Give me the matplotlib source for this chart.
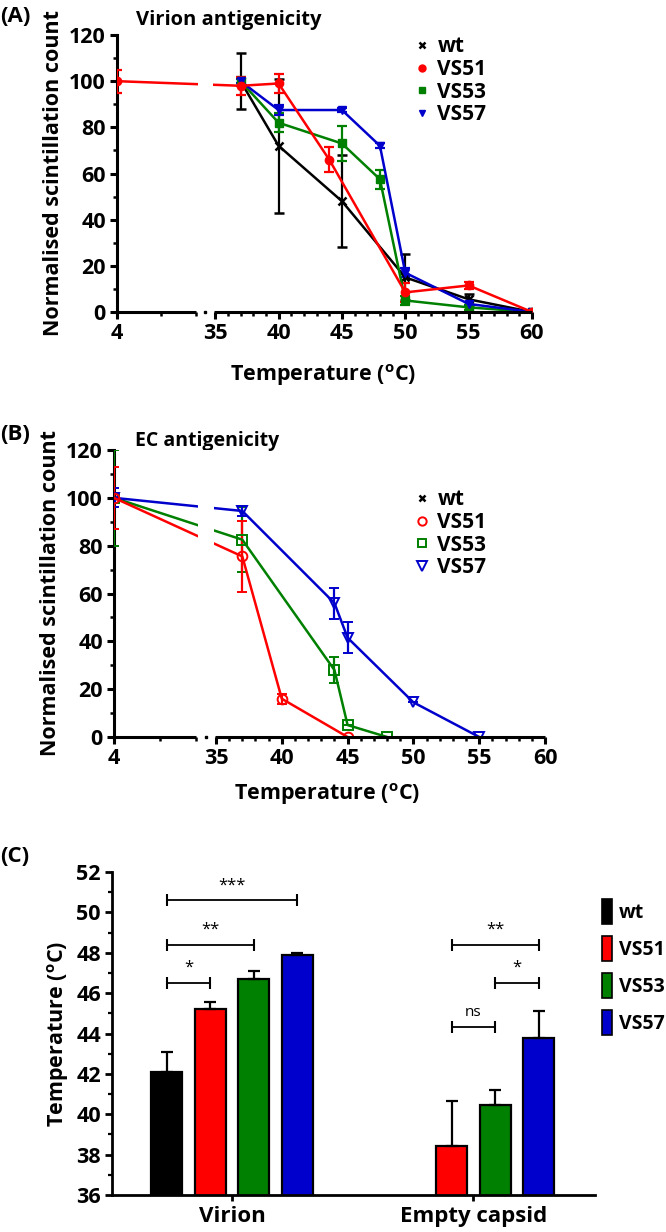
import numpy as np
import matplotlib
matplotlib.use("Agg")
import matplotlib.pyplot as plt
from matplotlib.lines import Line2D
from matplotlib.patches import Patch, Rectangle

plt.rcParams['font.family'] = ['Open Sans', 'DejaVu Sans']
plt.rcParams['font.weight'] = 'bold'
plt.rcParams['axes.labelweight'] = 'bold'
plt.rcParams['axes.titleweight'] = 'bold'
plt.rcParams['mathtext.fontset'] = 'custom'
plt.rcParams['mathtext.rm'] = 'Open Sans:bold'
plt.rcParams['mathtext.bf'] = 'Open Sans:bold'
plt.rcParams['mathtext.default'] = 'rm'

RED = '#ff0000'
GREEN = '#008000'
BLUE = '#0000cc'
BLACK = '#000000'

# ---- panel A: virion antigenicity ----
wt_a_x = [37, 40, 45, 50, 55, 60]
wt_a_y = [100, 72, 48, 15, 5.5, 0]
wt_a_err = [12, 29, 20, 10, 2.5, 0]
vs51_a_x = [4, 37, 40, 44, 50, 55, 60]
vs51_a_y = [100, 98, 99, 66, 8.5, 11.5, 0]
vs51_a_err = [5, 4, 4, 5.5, 4, 1.5, 0]
vs53_a_x = [37, 40, 45, 48, 50, 55, 60]
vs53_a_y = [100, 82, 73, 57.5, 5, 2, 0]
vs53_a_err = [2, 4, 7.5, 4, 2, 1, 0]
vs57_a_x = [37, 40, 45, 48, 50, 55, 60]
vs57_a_y = [100, 87.5, 87.5, 72, 17, 3.5, 0]
vs57_a_err = [1, 2, 1, 1, 2, 1, 0]

# ---- panel B: EC antigenicity ----
vs51_b_x = [4, 37, 40, 45]
vs51_b_y = [100, 75.5, 16, 0]
vs51_b_err = [13, 15, 2, 0]
vs53_b_x = [4, 37, 44, 45, 48]
vs53_b_y = [100, 82.5, 28, 5, 0]
vs53_b_err = [20, 13.5, 5.5, 0, 0]
vs57_b_x = [4, 37, 44, 45, 50, 55]
vs57_b_y = [100, 94.5, 56, 41.5, 14.5, 0]
vs57_b_err = [4, 2, 6.5, 6.5, 0, 0]

# ---- panel C: melting temperatures ----
groups = ['Virion', 'Empty capsid']
strains = ['wt', 'VS51', 'VS53', 'VS57']
tm_mean = {'wt': [42.1, np.nan], 'VS51': [45.2, 38.45],
           'VS53': [46.7, 40.45], 'VS57': [47.9, 43.8]}
tm_err = {'wt': [1.0, np.nan], 'VS51': [0.38, 2.2],
          'VS53': [0.38, 0.75], 'VS57': [0.1, 1.3]}
# (group, strain from, strain to, height, label)
brackets = [(0, 0, 1, 46.5, '*'), (0, 0, 2, 48.4, '**'), (0, 0, 3, 50.6, '***'),
            (1, 1, 2, 44.3, 'ns'), (1, 2, 3, 46.5, '*'), (1, 1, 3, 48.4, '**')]

W, H = 666, 1232
fig = plt.figure(figsize=(W / 100, H / 100), dpi=100)


def rect(l, t, r, b):
    return [l / W, 1 - b / H, (r - l) / W, (b - t) / H]


def fwd(x):
    x = np.asarray(x, dtype=float)
    return np.where(x < 35, (x - 4) / 4.0, 7.75 + (x - 35))


def inv(u):
    u = np.asarray(u, dtype=float)
    return np.where(u < 7.75, 4 + u * 4.0, 35 + (u - 7.75))


def style_line_axes(ax):
    ax.set_xscale('function', functions=(fwd, inv))
    ax.set_xlim(4, 60)
    ax.set_ylim(0, 120)
    ax.set_xticks([4, 35, 40, 45, 50, 55, 60])
    ax.set_xticks([18, 29] + [v for v in range(36, 60) if v % 5], minor=True)
    ax.set_yticks(range(0, 121, 20))
    ax.set_yticks(range(10, 120, 20), minor=True)
    for s in ['top', 'right', 'bottom']:
        ax.spines[s].set_visible(False)
    ax.spines['left'].set_linewidth(2.2)
    ax.tick_params(which='major', length=5, width=2.2, labelsize=15.5, pad=3)
    ax.tick_params(which='minor', length=3, width=1.8)
    # broken x axis
    ax.add_patch(Rectangle((0.195, 0.0), 0.036, 1.0, transform=ax.transAxes,
                           facecolor='white', edgecolor='none', zorder=5))
    kw = dict(transform=ax.transAxes, color='black', lw=2.2, clip_on=False,
              zorder=6, solid_capstyle='butt')
    ax.plot([0, 0.19], [0, 0], **kw)
    ax.plot([0.234, 1], [0, 0], **kw)
    ax.plot([0.213], [0], 's', ms=1.5, color='black', transform=ax.transAxes,
            clip_on=False, zorder=6)
    ax.set_ylabel('Normalised scintillation count', fontsize=15.5, labelpad=4)
    ax.set_xlabel(r'Temperature ($^{o}$C)', fontsize=15.5)


ekw = dict(lw=1.8, elinewidth=1.6, capsize=3.5, capthick=1.6, zorder=3)

# Panel A
axa = fig.add_axes(rect(117, 35, 532, 312))
axa.errorbar(wt_a_x, wt_a_y, yerr=wt_a_err, color=BLACK, marker='x', ms=6, mew=1.8, **ekw)
axa.errorbar(vs53_a_x, vs53_a_y, yerr=vs53_a_err, color=GREEN, marker='s', ms=5.5, **ekw)
axa.errorbar(vs57_a_x, vs57_a_y, yerr=vs57_a_err, color=BLUE, marker='v', ms=6, **ekw)
axa.errorbar(vs51_a_x, vs51_a_y, yerr=vs51_a_err, color=RED, marker='o', ms=6, **ekw)
style_line_axes(axa)
axa.xaxis.set_label_coords(0.497, -0.18)
axa.set_title('Virion antigenicity', fontsize=14.5, x=0.27, y=1.0, pad=7)

leg_a = [Line2D([], [], color=BLACK, marker='x', ls='none', ms=5, mew=1.8),
         Line2D([], [], color=RED, marker='o', ls='none', ms=5),
         Line2D([], [], color=GREEN, marker='s', ls='none', ms=5),
         Line2D([], [], color=BLUE, marker='v', ls='none', ms=5)]
axa.legend(leg_a, strains, loc='upper left', bbox_to_anchor=(404 / W, 1 - 26 / H),
           bbox_transform=fig.transFigure, frameon=False, fontsize=15,
           handlelength=0.7, handletextpad=0.4, labelspacing=0.08, borderpad=0)

# Panel B
axb = fig.add_axes(rect(114, 450, 545, 737))
axb.errorbar(vs53_b_x, vs53_b_y, yerr=vs53_b_err, color=GREEN, marker='s', ms=7,
             mfc='none', mew=1.4, **ekw)
axb.errorbar(vs57_b_x, vs57_b_y, yerr=vs57_b_err, color=BLUE, marker='v', ms=7.5,
             mfc='none', mew=1.4, **ekw)
axb.errorbar(vs51_b_x, vs51_b_y, yerr=vs51_b_err, color=RED, marker='o', ms=7,
             mfc='none', mew=1.4, **ekw)
style_line_axes(axb)
axb.xaxis.set_label_coords(0.494, -0.155)
axb.set_title('EC antigenicity', fontsize=14, x=0.215, y=1.0, pad=3)

leg_b = [Line2D([], [], color=BLACK, marker='x', ls='none', ms=5, mew=1.8),
         Line2D([], [], color=RED, marker='o', ls='none', ms=6, mfc='none', mew=1.4),
         Line2D([], [], color=GREEN, marker='s', ls='none', ms=6, mfc='none', mew=1.4),
         Line2D([], [], color=BLUE, marker='v', ls='none', ms=6.5, mfc='none', mew=1.4)]
axb.legend(leg_b, strains, loc='upper left', bbox_to_anchor=(404 / W, 1 - 479 / H),
           bbox_transform=fig.transFigure, frameon=False, fontsize=15,
           handlelength=0.7, handletextpad=0.4, labelspacing=0.08, borderpad=0)

# Panel C
axc = fig.add_axes(rect(112, 872, 595, 1195))
colors = [BLACK, RED, GREEN, BLUE]
gx = np.arange(len(groups))
step, bw = 0.18, 0.128
offsets = (np.arange(len(strains)) - 1.5) * step
for i, s in enumerate(strains):
    axc.bar(gx + offsets[i], tm_mean[s], width=bw, color=colors[i], edgecolor='black',
            linewidth=1.6, zorder=2)
    axc.errorbar(gx + offsets[i], tm_mean[s], yerr=[np.zeros(len(groups)), tm_err[s]],
                 fmt='none', ecolor='black', elinewidth=1.6, capsize=4.5, capthick=1.6,
                 zorder=3)
for g, a, b, h, lab in brackets:
    xa, xb = g + offsets[a], g + offsets[b]
    axc.plot([xa, xb], [h, h], color='black', lw=1.3, marker='|', ms=8, mew=1.5)
    axc.text((xa + xb) / 2, h + 0.35, lab, ha='center', va='bottom',
             fontsize=11 if lab == 'ns' else 12, fontweight='normal')
axc.set_xlim(-0.497, 1.504)
axc.set_ylim(36, 52)
axc.set_yticks(range(36, 53, 2))
axc.set_yticks(range(37, 52, 2), minor=True)
axc.set_xticks(gx)
axc.set_xticklabels(groups)
for s in ['top', 'right']:
    axc.spines[s].set_visible(False)
for s in ['left', 'bottom']:
    axc.spines[s].set_linewidth(2.0)
axc.tick_params(axis='y', which='major', length=5, width=2.0, labelsize=15.5, pad=3)
axc.tick_params(axis='y', which='minor', length=3, width=1.6)
axc.tick_params(axis='x', length=4, width=2.0, labelsize=16, pad=4)
axc.set_ylabel(r'Temperature ($^{o}$C)', fontsize=15.5, labelpad=4)

leg_c = [Patch(facecolor=c, edgecolor='black', linewidth=1.2) for c in colors]
axc.legend(leg_c, strains, loc='upper left', bbox_to_anchor=(592 / W, 1 - 889 / H),
           bbox_transform=fig.transFigure, frameon=False, fontsize=14,
           handlelength=0.55, handleheight=1.6, handletextpad=0.35, labelspacing=0.62,
           borderpad=0)

# panel letters
fig.text(0 / W, 1 - 16 / H, '(A)', fontsize=16, fontweight='bold', va='center')
fig.text(0 / W, 1 - 434 / H, '(B)', fontsize=16, fontweight='bold', va='center')
fig.text(0 / W, 1 - 857 / H, '(C)', fontsize=16, fontweight='bold', va='center')

fig.savefig('out.png', dpi=100)
